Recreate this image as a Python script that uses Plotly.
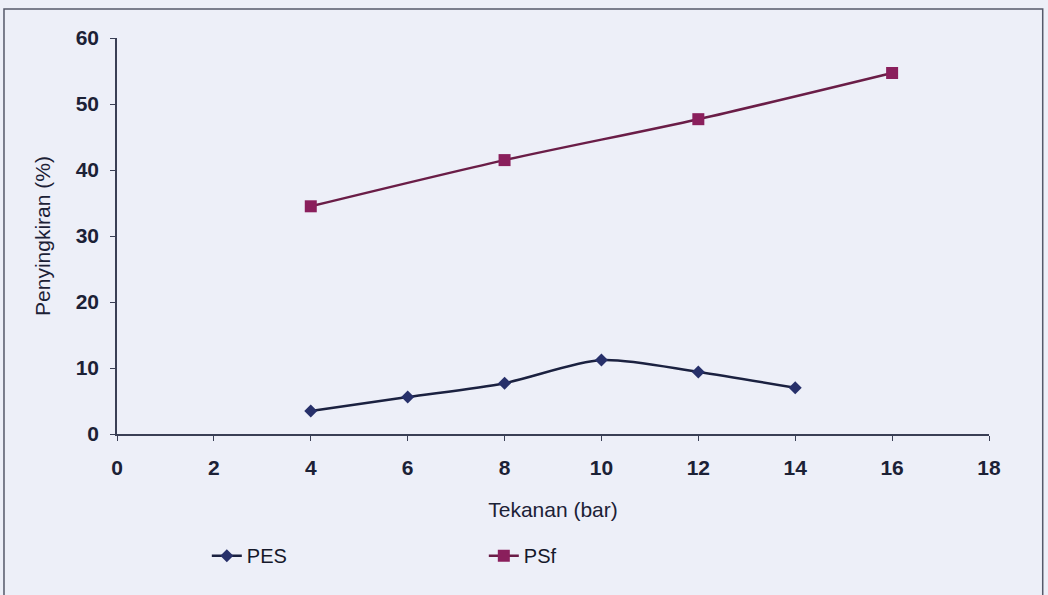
import plotly.graph_objects as go

# Pressure (bar) and rejection (%) for each membrane
tekanan_pes = [4, 6, 8, 10, 12, 14]
penyingkiran_pes = [3.5, 5.6, 7.7, 11.2, 9.4, 7.0]

tekanan_psf = [4, 8, 12, 16]
penyingkiran_psf = [34.5, 41.5, 47.7, 54.7]

x_ticks = [0, 2, 4, 6, 8, 10, 12, 14, 16, 18]
y_ticks = [0, 10, 20, 30, 40, 50, 60]

bg = "#edeff8"
ink = "#1c2136"
axis_col = "#3a3f55"
font_main = "Liberation Sans, Arial, sans-serif"

fig = go.Figure()

fig.add_trace(go.Scatter(
    x=tekanan_pes, y=penyingkiran_pes, name="PES",
    mode="lines+markers",
    line=dict(color="#1b2140", width=2.5, shape="spline", smoothing=0.8),
    marker=dict(symbol="diamond", size=10, color="#27306a"),
))

fig.add_trace(go.Scatter(
    x=tekanan_psf, y=penyingkiran_psf, name="PSf",
    mode="lines+markers",
    line=dict(color="#6a1d47", width=2.5, shape="spline", smoothing=0.8),
    marker=dict(symbol="square", size=12, color="#8a1f5c"),
))

fig.update_layout(
    width=1048, height=595,
    margin=dict(l=117, r=59, t=38, b=161),
    paper_bgcolor=bg, plot_bgcolor=bg,
    font=dict(family=font_main, color=ink),
    showlegend=True,
    legend=dict(
        orientation="h", x=0.103, y=-0.258, xanchor="left", yanchor="top",
        font=dict(size=20, family=font_main, color="#15182a"),
        entrywidth=232, entrywidthmode="pixels",
        bgcolor="rgba(0,0,0,0)",
    ),
    shapes=[dict(
        type="rect", xref="paper", yref="paper",
        x0=-0.1296, x1=1.0616, y0=-0.42, y1=1.073,
        line=dict(color="#55596a", width=1.5), fillcolor="rgba(0,0,0,0)",
        layer="below",
    )],
)

fig.update_xaxes(
    range=[0, 18], tickvals=x_ticks, ticktext=[str(v) for v in x_ticks],
    showgrid=False, zeroline=False,
    showline=True, linecolor=axis_col, linewidth=1.5,
    ticks="outside", ticklen=5, tickcolor=axis_col,
    ticklabelstandoff=9,
    tickfont=dict(size=21, family=font_main, color=ink, weight="bold"),
    title=dict(text="Tekanan (bar)", font=dict(size=21, family=font_main, color=ink), standoff=24),
)

fig.update_yaxes(
    range=[0, 60], tickvals=y_ticks, ticktext=[str(v) for v in y_ticks],
    showgrid=False, zeroline=False,
    showline=True, linecolor=axis_col, linewidth=1.5,
    ticks="outside", ticklen=5, tickcolor=axis_col,
    ticklabelstandoff=7,
    tickfont=dict(size=21, family=font_main, color=ink, weight="bold"),
    title=dict(text="Penyingkiran (%)", font=dict(size=21, family=font_main, color=ink), standoff=19),
)

fig.write_html("out.html")
